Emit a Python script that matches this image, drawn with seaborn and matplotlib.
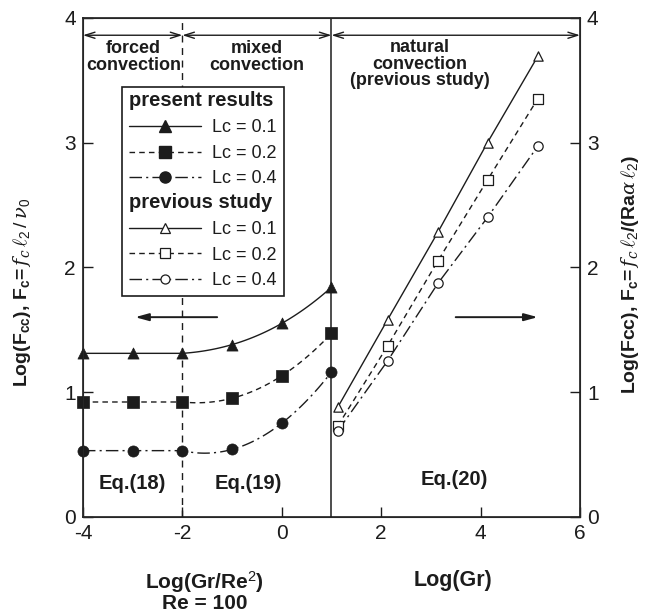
import numpy as np
import pandas as pd
import seaborn as sns
import matplotlib.pyplot as plt
import matplotlib.text as mtext
from matplotlib.lines import Line2D
from matplotlib.legend_handler import HandlerBase

sns.set_style("ticks")
plt.rcParams['font.family'] = ['Liberation Sans', 'DejaVu Sans']
plt.rcParams['mathtext.fontset'] = 'custom'
plt.rcParams['mathtext.rm'] = 'Liberation Sans'
plt.rcParams['mathtext.it'] = 'DejaVu Serif:italic'
plt.rcParams['mathtext.bf'] = 'Liberation Sans:bold'

INK = '#1c1c1c'

# ---- present results: Log(Fcc) vs Log(Gr/Re^2), Re = 100 ----
x_mixed = [-4, -3, -2, -1, 0, 1]
fcc_lc01 = [1.31, 1.31, 1.31, 1.38, 1.55, 1.84]
fcc_lc02 = [0.92, 0.92, 0.92, 0.95, 1.13, 1.47]
fcc_lc04 = [0.53, 0.53, 0.53, 0.54, 0.75, 1.16]

# ---- previous study: Log(Fcc) vs Log(Gr) ----
x_nat = [1.13, 2.13, 3.14, 4.14, 5.15]
nat_lc01 = [0.88, 1.58, 2.28, 3.00, 3.69]
nat_lc02 = [0.73, 1.37, 2.05, 2.70, 3.35]
nat_lc04 = [0.69, 1.25, 1.87, 2.40, 2.97]

lc_labels = ['Lc = 0.1', 'Lc = 0.2', 'Lc = 0.4']
x_ticks = [-4, -2, 0, 2, 4, 6]
y_ticks = [0, 1, 2, 3, 4]

styles = [
    dict(ls='-', marker='^'),
    dict(ls=(0, (4, 3)), marker='s'),
    dict(ls=(0, (9, 3, 1.5, 3)), marker='o'),
]

fig = plt.figure(figsize=(6.48, 6.13), dpi=100)
ax = fig.add_axes([0.128, 0.157, 0.767, 0.814])


def mixed_curve(xs, ys):
    """Flat in the forced regime, smooth cubic through the mixed-regime points."""
    xs = np.asarray(xs, float)
    ys = np.asarray(ys, float)
    coef = np.polyfit(xs[2:], ys[2:], 3)
    xa = np.linspace(xs[0], xs[2], 20)
    xb = np.linspace(xs[2], xs[-1], 80)
    return np.r_[xa, xb], np.r_[np.full_like(xa, ys[0]), np.polyval(coef, xb)]


present = [fcc_lc01, fcc_lc02, fcc_lc04]
previous = [nat_lc01, nat_lc02, nat_lc04]

for ys, st in zip(present, styles):
    cx, cy = mixed_curve(x_mixed, ys)
    sns.lineplot(x=cx, y=cy, ax=ax, color=INK, lw=1.0, linestyle=st['ls'],
                 sort=False, estimator=None)
    sns.scatterplot(x=x_mixed, y=ys, ax=ax, marker=st['marker'], s=64,
                    color=INK, edgecolor=INK, linewidth=0.5, zorder=4, clip_on=False)

for ys, st in zip(previous, styles):
    sns.lineplot(x=x_nat, y=ys, ax=ax, color=INK, lw=1.0, linestyle=st['ls'],
                 sort=False, estimator=None)
    sns.scatterplot(x=x_nat, y=ys, ax=ax, marker=st['marker'], s=45,
                    facecolor='white', edgecolor=INK, linewidth=0.9, zorder=4)

# regime boundaries
ax.axvline(1, color=INK, lw=1.1, zorder=2)
ax.axvline(-2, color=INK, lw=1.0, ls=(0, (5, 4)), zorder=1)

# regime span arrows along the top
for a, b in [(-4, -2), (-2, 1), (1, 6)]:
    ax.annotate('', xy=(b, 3.86), xytext=(a, 3.86),
                arrowprops=dict(arrowstyle='<->,head_length=0.7,head_width=0.22',
                                color=INK, lw=1.0, shrinkA=0, shrinkB=0))

# axis-direction arrows
ax.annotate('', xy=(-2.95, 1.6), xytext=(-1.3, 1.6),
            arrowprops=dict(arrowstyle='-|>,head_length=0.8,head_width=0.22',
                            color=INK, lw=1.4, shrinkA=0, shrinkB=0))
ax.annotate('', xy=(5.15, 1.6), xytext=(3.5, 1.6),
            arrowprops=dict(arrowstyle='-|>,head_length=0.8,head_width=0.22',
                            color=INK, lw=1.4, shrinkA=0, shrinkB=0))

tkw = dict(fontsize=13, fontweight='bold', color=INK, ha='center', va='top',
           linespacing=0.98)
ax.text(-2.98, 3.82, 'forced\nconvection', **tkw)
ax.text(-0.5, 3.82, 'mixed\nconvection', **tkw)
ax.text(2.78, 3.83, 'natural\nconvection\n(previous study)', **tkw)

ekw = dict(fontsize=14.5, fontweight='bold', color=INK, ha='center', va='center')
ax.text(-3.0, 0.27, 'Eq.(18)', **ekw)
ax.text(-0.68, 0.27, 'Eq.(19)', **ekw)
ax.text(3.48, 0.30, 'Eq.(20)', **ekw)

ax.set_xlim(-4, 6)
ax.set_ylim(0, 4)
ax.set_xticks(x_ticks)
ax.set_xticklabels([str(t) for t in x_ticks])
ax.set_yticks(y_ticks)
ax.set_yticklabels([str(t) for t in y_ticks])
ax.tick_params(direction='in', length=7, width=1, labelsize=15, colors=INK,
               pad=5, top=False, right=False)
for sp in ax.spines.values():
    sp.set_visible(True)
    sp.set_color(INK)
    sp.set_linewidth(1.2)
ax.set_xlabel('')
ax.set_ylabel(r'Log(F$_\mathbf{cc}$), F$_\mathbf{c}$=$\,f_c\,\ell_2\,/\,\nu_0$',
              fontsize=14, fontweight='bold', color=INK)
ax.yaxis.set_label_coords(-0.10, 0.45)

axr = ax.twinx()
axr.set_ylim(0, 4)
axr.set_yticks(y_ticks)
axr.set_yticklabels([str(t) for t in y_ticks])
axr.tick_params(direction='in', length=7, width=1, labelsize=15, colors=INK, pad=5)
axr.set_ylabel(r'Log(Fcc), F$_\mathbf{c}$=$\,f_c\,\ell_2$/(Ra$\alpha\,\ell_2$)',
               fontsize=14, fontweight='bold', color=INK)
axr.yaxis.set_label_coords(1.078, 0.485)
axr.grid(False)

# x-axis captions under each region
ax.annotate('Log(Gr/Re$^2$)\nRe = 100', xy=(-1.55, 0), xycoords=('data', 'axes fraction'),
            xytext=(0, -38), textcoords='offset points', ha='center', va='top',
            fontsize=15, fontweight='bold', color=INK, linespacing=0.88)
ax.annotate('Log(Gr)', xy=(3.44, 0), xycoords=('data', 'axes fraction'),
            xytext=(0, -38), textcoords='offset points', ha='center', va='top',
            fontsize=15.5, fontweight='bold', color=INK)


# legend with bold group headers
class Header:
    def __init__(self, text):
        self.text = text


class HeaderHandler(HandlerBase):
    def legend_artist(self, legend, orig_handle, fontsize, handlebox):
        t = mtext.Text(-handlebox.xdescent,
                       -handlebox.ydescent + handlebox.height * 0.5,
                       orig_handle.text, fontsize=14.5, fontweight='bold',
                       color=INK, ha='left', va='center')
        handlebox.add_artist(t)
        return t


handles, labels = [Header('present results')], ['']
for st, lab in zip(styles, lc_labels):
    handles.append(Line2D([], [], color=INK, lw=1.0, ls=st['ls'], marker=st['marker'],
                          ms=8, mfc=INK, mec=INK))
    labels.append(lab)
handles.append(Header('previous study'))
labels.append('')
for st, lab in zip(styles, lc_labels):
    handles.append(Line2D([], [], color=INK, lw=1.0, ls=st['ls'], marker=st['marker'],
                          ms=6.5, mfc='white', mec=INK, mew=0.9))
    labels.append(lab)

leg = ax.legend(handles, labels, handler_map={Header: HeaderHandler()},
                loc='upper left', bbox_to_anchor=(0.078, 0.862), borderaxespad=0,
                frameon=True, fancybox=False, edgecolor=INK, framealpha=1,
                fontsize=13, handlelength=4.0, handletextpad=0.6,
                labelspacing=0.47, borderpad=0.4)
leg.get_frame().set_linewidth(1.2)
leg.set_zorder(10)
for t in leg.get_texts():
    t.set_color(INK)

fig.savefig('out.png', dpi=100)
